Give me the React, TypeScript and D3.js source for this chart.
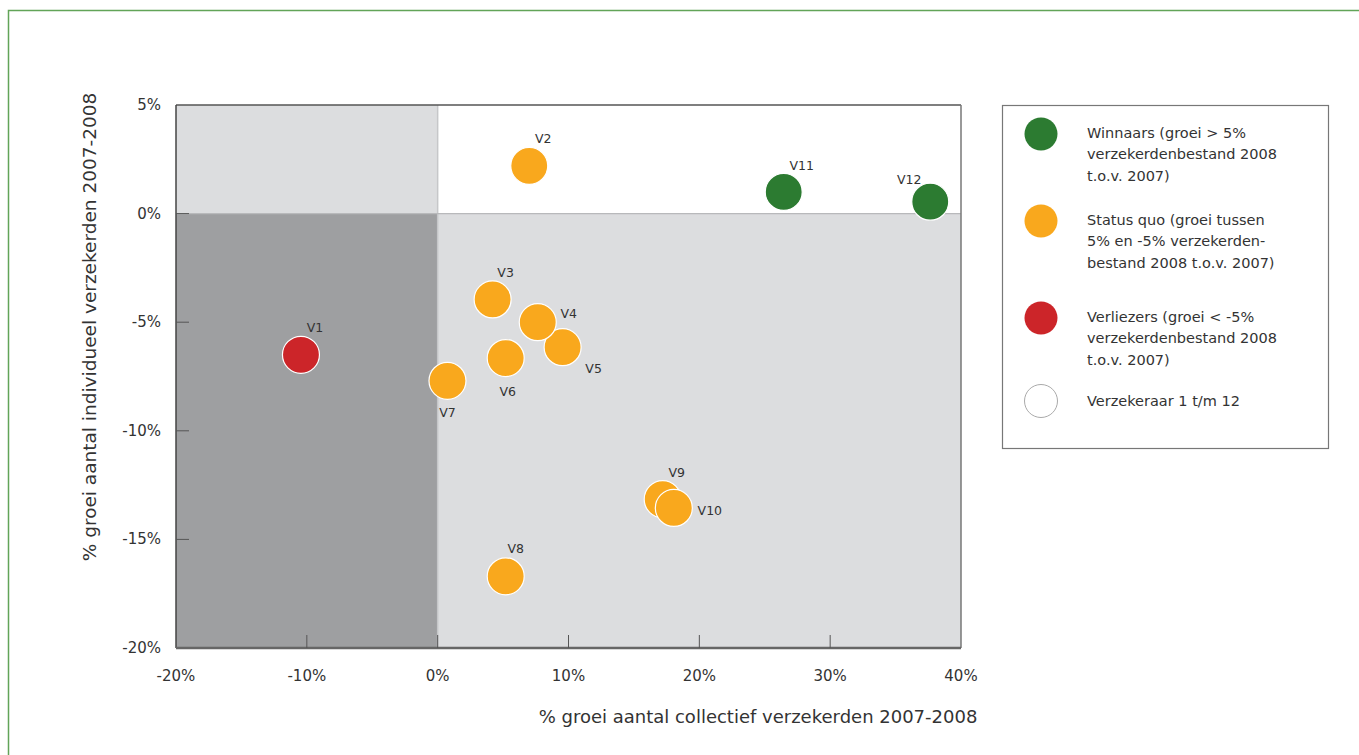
import React, { useEffect, useRef } from "react";
import * as d3 from "d3";

// Insurers V1..V12: growth of collective (x) and individual (y) policyholders, 2007-2008, in %
const insurers = ["V1", "V2", "V3", "V4", "V5", "V6", "V7", "V8", "V9", "V10", "V11", "V12"];
const collectiefGroei = [-10.45, 7.0, 4.2, 7.65, 9.55, 5.2, 0.75, 5.2, 17.2, 18.05, 26.45, 37.65];
const individueelGroei = [-6.5, 2.2, -3.95, -5.0, -6.15, -6.65, -7.7, -16.7, -13.15, -13.55, 1.0, 0.55];
const categorie = [
  "verliezers", "status", "status", "status", "status", "status",
  "status", "status", "status", "status", "winnaars", "winnaars",
];

const xTicks = [-20, -10, 0, 10, 20, 30, 40];
const yTicks = [5, 0, -5, -10, -15, -20];

const legendItems = [
  { key: "winnaars", lines: ["Winnaars (groei > 5%", "verzekerdenbestand 2008", "t.o.v. 2007)"] },
  { key: "status", lines: ["Status quo (groei tussen", "5% en -5% verzekerden-", "bestand 2008 t.o.v. 2007)"] },
  { key: "verliezers", lines: ["Verliezers (groei < -5%", "verzekerdenbestand 2008", "t.o.v. 2007)"] },
  { key: "verzekeraar", lines: ["Verzekeraar 1 t/m 12"] },
];

const colors: Record<string, string> = {
  winnaars: "#2c7b31",
  status: "#f9a81d",
  verliezers: "#cc2529",
  verzekeraar: "#ffffff",
};

// label offsets (dx, dy) from each bubble centre
const labelOffset: Record<string, [number, number]> = {
  V1: [14, -27], V2: [14, -27], V3: [13, -27], V4: [31, -9], V5: [31, 21],
  V6: [2, 33], V7: [0, 32], V8: [10, -28], V9: [14, -27], V10: [36, 3],
  V11: [18, -26], V12: [-21, -22],
};

const FONT = "'DejaVu Sans', sans-serif";
const TEXT = "#333";

export default function App() {
  const ref = useRef<SVGSVGElement>(null);

  useEffect(() => {
    const svg = d3.select(ref.current);
    svg.selectAll("*").remove();

    const left = 176, right = 961, top = 105, bottom = 648;
    const x = d3.scaleLinear().domain([-20, 40]).range([left, right]);
    const y = d3.scaleLinear().domain([-20, 5]).range([bottom, top]);

    // outer green frame (left and top edges)
    svg.append("path")
      .attr("d", "M8.5,755 L8.5,10.5 L1359,10.5")
      .attr("fill", "none")
      .attr("stroke", "#62a458")
      .attr("stroke-width", 1.5);

    // quadrant backgrounds
    const quads = [
      { x0: -20, x1: 0, y0: 0, y1: 5, fill: "#dcdddf" },
      { x0: 0, x1: 40, y0: 0, y1: 5, fill: "#ffffff" },
      { x0: -20, x1: 0, y0: -20, y1: 0, fill: "#9e9fa1" },
      { x0: 0, x1: 40, y0: -20, y1: 0, fill: "#dcdddf" },
    ];
    svg.append("g").selectAll("rect").data(quads).join("rect")
      .attr("x", (d) => x(d.x0))
      .attr("y", (d) => y(d.y1))
      .attr("width", (d) => x(d.x1) - x(d.x0))
      .attr("height", (d) => y(d.y0) - y(d.y1))
      .attr("fill", (d) => d.fill);

    // zero dividers
    svg.append("line")
      .attr("x1", x(0)).attr("x2", x(0)).attr("y1", top).attr("y2", bottom)
      .attr("stroke", "#c6c7c9").attr("stroke-width", 1.5);
    svg.append("line")
      .attr("x1", left).attr("x2", right).attr("y1", y(0)).attr("y2", y(0))
      .attr("stroke", "#b8b9bb").attr("stroke-width", 1.2);

    // frame of the plot area
    svg.append("line").attr("x1", left).attr("x2", right).attr("y1", top).attr("y2", top)
      .attr("stroke", "#555").attr("stroke-width", 1.5);
    svg.append("line").attr("x1", right).attr("x2", right).attr("y1", top).attr("y2", bottom)
      .attr("stroke", "#777").attr("stroke-width", 1.5);
    svg.append("line").attr("x1", left).attr("x2", left).attr("y1", top).attr("y2", bottom)
      .attr("stroke", "#444").attr("stroke-width", 1.5);
    svg.append("line").attr("x1", left).attr("x2", right).attr("y1", bottom).attr("y2", bottom)
      .attr("stroke", "#666").attr("stroke-width", 2.5);

    // inner ticks
    svg.append("g").selectAll("line").data(xTicks.filter((t) => t > -20 && t < 40)).join("line")
      .attr("x1", (d) => x(d)).attr("x2", (d) => x(d))
      .attr("y1", bottom).attr("y2", bottom - 13)
      .attr("stroke", "#555").attr("stroke-width", 1);
    svg.append("g").selectAll("line").data(yTicks.filter((t) => t < 5 && t > -20)).join("line")
      .attr("x1", left).attr("x2", left + 13)
      .attr("y1", (d) => y(d)).attr("y2", (d) => y(d))
      .attr("stroke", "#555").attr("stroke-width", 1);

    // tick labels
    svg.append("g").selectAll("text").data(xTicks).join("text")
      .attr("x", (d) => x(d)).attr("y", 681)
      .attr("text-anchor", "middle")
      .attr("font-family", FONT).attr("font-size", 15).attr("fill", TEXT)
      .text((d) => `${d}%`);
    svg.append("g").selectAll("text").data(yTicks).join("text")
      .attr("x", 161).attr("y", (d) => y(d) + 5)
      .attr("text-anchor", "end")
      .attr("font-family", FONT).attr("font-size", 15).attr("fill", TEXT)
      .text((d) => `${d}%`);

    // axis titles
    svg.append("text")
      .attr("x", 758).attr("y", 723)
      .attr("text-anchor", "middle")
      .attr("font-family", FONT).attr("font-size", 18).attr("fill", TEXT)
      .text("% groei aantal collectief verzekerden 2007-2008");
    svg.append("text")
      .attr("transform", "translate(96,327) rotate(-90)")
      .attr("text-anchor", "middle")
      .attr("font-family", FONT).attr("font-size", 18.5).attr("fill", TEXT)
      .text("% groei aantal individueel verzekerden 2007-2008");

    // bubbles
    const points = insurers.map((name, i) => ({
      name, cx: collectiefGroei[i], cy: individueelGroei[i], cat: categorie[i],
    }));
    const g = svg.append("g");
    const bubbles = g.selectAll("g").data(points).join("g");
    bubbles.append("circle")
      .attr("cx", (d) => x(d.cx)).attr("cy", (d) => y(d.cy)).attr("r", 18.5)
      .attr("fill", (d) => colors[d.cat])
      .attr("stroke", "#ffffff").attr("stroke-width", 1.2);
    bubbles.filter((d) => d.name === "V4").raise();

    g.append("g").selectAll("text").data(points).join("text")
      .attr("x", (d) => x(d.cx) + labelOffset[d.name][0])
      .attr("y", (d) => y(d.cy) + labelOffset[d.name][1] + 4.5)
      .attr("text-anchor", "middle")
      .attr("font-family", FONT).attr("font-size", 12.5).attr("fill", TEXT)
      .text((d) => d.name);

    // legend
    const lg = svg.append("g");
    lg.append("rect")
      .attr("x", 1002.5).attr("y", 105.5).attr("width", 326).attr("height", 343)
      .attr("fill", "#fff").attr("stroke", "#777").attr("stroke-width", 1.2);
    const legendCy = [134, 221, 318, 401];
    legendItems.forEach((item, i) => {
      lg.append("circle")
        .attr("cx", 1041).attr("cy", legendCy[i]).attr("r", 16.5)
        .attr("fill", colors[item.key])
        .attr("stroke", item.key === "verzekeraar" ? "#aaa" : "none")
        .attr("stroke-width", 1);
      const first = legendCy[i] - (item.lines.length > 1 ? 1.5 : 0);
      item.lines.forEach((line, j) => {
        lg.append("text")
          .attr("x", 1087).attr("y", first + j * 21.5 + 5)
          .attr("font-family", FONT).attr("font-size", 14.5).attr("fill", TEXT)
          .text(line);
      });
    });
  }, []);

  return (
    <svg
      ref={ref}
      width={1359}
      height={755}
      style={{ position: "absolute", left: 0, top: 0, background: "#fff" }}
    />
  );
}
